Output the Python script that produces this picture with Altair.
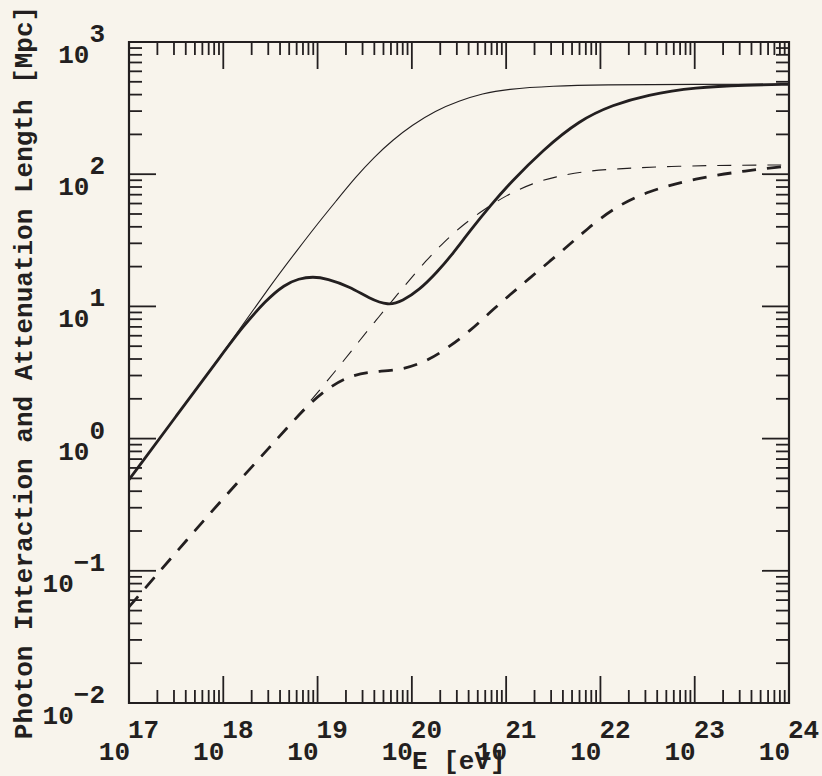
import altair as alt
import pandas as pd

INK = "#231f20"
BG = "#f8f4ec"
FONT = "Liberation Mono"
W, H = 660, 661

# ---- data (log10 of energy [eV] and log10 of length [Mpc]) ----
thin_solid_logE = [17.0, 17.5, 18.0, 18.5, 18.8, 19.0, 19.2, 19.4, 19.6, 19.8, 20.0,
                   20.25, 20.5, 20.75, 21.0, 21.5, 22.0, 23.0, 24.0]
thin_solid_logL = [-0.311, 0.17, 0.65, 1.16, 1.44, 1.625, 1.80, 1.975, 2.13, 2.26, 2.37,
                   2.48, 2.555, 2.61, 2.643, 2.668, 2.676, 2.68, 2.68]

thick_solid_logE = [17.0, 17.5, 18.0, 18.2, 18.45, 18.65, 18.8, 18.95, 19.1, 19.34, 19.55,
                    19.75, 19.9, 20.08, 20.26, 20.44, 20.61, 20.84, 21.04, 21.39, 21.78,
                    22.13, 22.49, 23.01, 23.55, 24.0]
thick_solid_logL = [-0.311, 0.17, 0.65, 0.84, 1.045, 1.165, 1.21, 1.226, 1.21, 1.15, 1.06,
                    1.005, 1.04, 1.125, 1.252, 1.403, 1.566, 1.768, 1.932, 2.184, 2.41,
                    2.524, 2.60, 2.658, 2.675, 2.68]

thin_dash_logE = [17.0, 17.5, 18.0, 18.5, 18.88, 19.2, 19.45, 19.62, 19.8, 19.94, 20.155,
                  20.33, 20.54, 20.77, 21.0, 21.28, 21.53, 21.81, 22.13, 22.84, 23.5, 24.0]
thin_dash_logL = [-1.273, -0.86, -0.45, -0.06, 0.244, 0.52, 0.745, 0.895, 1.05, 1.17, 1.35,
                  1.48, 1.617, 1.735, 1.84, 1.932, 1.982, 2.02, 2.04, 2.063, 2.068, 2.07]

thick_dash_logE = [17.0, 17.5, 18.0, 18.5, 18.88, 19.09, 19.3, 19.55, 19.9, 20.19, 20.4,
                   20.61, 20.82, 21.04, 21.25, 21.46, 21.67, 21.85, 22.13, 22.49, 23.01,
                   23.55, 24.0]
thick_dash_logL = [-1.273, -0.86, -0.45, -0.06, 0.244, 0.37, 0.465, 0.508, 0.516, 0.597, 0.697,
                   0.81, 0.95, 1.088, 1.214, 1.34, 1.466, 1.58, 1.74, 1.87, 1.97,
                   2.027, 2.063]

x_exponents = [17, 18, 19, 20, 21, 22, 23, 24]
y_exponents = [-2, -1, 0, 1, 2, 3]
minor_mult = [2, 3, 4, 5, 6, 7, 8, 9]

x_title = "E [eV]"
y_title = "Photon Interaction and Attenuation Length [Mpc]"

# ---- scales ----
xs = alt.Scale(type="log", domain=[1e17, 1e24], nice=False)
ys = alt.Scale(type="log", domain=[1e-2, 1e3], nice=False)


def curve(lx, ly, width, dash=None):
    df = pd.DataFrame({"E": [10.0 ** v for v in lx], "L": [10.0 ** v for v in ly]})
    kw = dict(color=INK, strokeWidth=width, interpolate="basis", clip=True)
    if dash:
        kw["strokeDash"] = dash
    return alt.Chart(df).mark_line(**kw).encode(
        x=alt.X("E:Q", scale=xs, axis=None),
        y=alt.Y("L:Q", scale=ys, axis=None),
    )


x_major = [10.0 ** e for e in x_exponents]
x_minor = [m * 10.0 ** e for e in x_exponents[:-1] for m in minor_mult]
y_major = [10.0 ** e for e in y_exponents]
y_minor = [m * 10.0 ** e for e in y_exponents[:-1] for m in minor_mult]

MAJ, MIN = 27, 13


def xticks(vals, y0, y1):
    return alt.Chart(pd.DataFrame({"v": vals})).mark_rule(color=INK, strokeWidth=1.8).encode(
        x=alt.X("v:Q", scale=xs, axis=None), y=alt.value(y0), y2=alt.value(y1))


def yticks(vals, x0, x1):
    return alt.Chart(pd.DataFrame({"v": vals})).mark_rule(color=INK, strokeWidth=1.8).encode(
        y=alt.Y("v:Q", scale=ys, axis=None), x=alt.value(x0), x2=alt.value(x1))


ticks = [
    xticks(x_major, H, H - MAJ), xticks(x_minor, H, H - MIN),
    xticks(x_major, 0, MAJ), xticks(x_minor, 0, MIN),
    yticks(y_major, 0, MAJ), yticks(y_minor, 0, MIN),
    yticks(y_major, W, W - MAJ), yticks(y_minor, W, W - MIN),
]

FS = 26
CH = FS * 0.6  # monospace advance
TXT = dict(font=FONT, fontSize=FS, fontWeight="bold", color=INK, baseline="alphabetic")

xlab = pd.DataFrame({"v": x_major, "exp": [str(e) for e in x_exponents]})
x_base = alt.Chart(xlab).mark_text(align="right", dx=1, **TXT).encode(
    x=alt.X("v:Q", scale=xs, axis=None), y=alt.value(H + 57), text=alt.value("10"))
x_exp = alt.Chart(xlab).mark_text(align="left", dx=-1, **TXT).encode(
    x=alt.X("v:Q", scale=xs, axis=None), y=alt.value(H + 35), text="exp:N")

ylab = pd.DataFrame({"v": y_major,
                     "exp": [str(e).replace("-", "\u2212") for e in y_exponents],
                     "n": [len(str(e)) for e in y_exponents]})
y_exp = alt.Chart(ylab).mark_text(align="right", **TXT).encode(
    y=alt.Y("v:Q", scale=ys, axis=None), x=alt.value(-24), text="exp:N")
y_base1 = alt.Chart(ylab).transform_filter("datum.n == 1").mark_text(
    align="right", dy=21, **TXT).encode(
    y=alt.Y("v:Q", scale=ys, axis=None), x=alt.value(-24 - CH), text=alt.value("10"))
y_base2 = alt.Chart(ylab).transform_filter("datum.n == 2").mark_text(
    align="right", dy=21, **TXT).encode(
    y=alt.Y("v:Q", scale=ys, axis=None), x=alt.value(-24 - 2 * CH), text=alt.value("10"))

xt = alt.Chart(pd.DataFrame({"t": [x_title]})).mark_text(align="left", **TXT).encode(
    x=alt.value(283), y=alt.value(H + 66), text="t:N")
yt = alt.Chart(pd.DataFrame({"t": [y_title]})).mark_text(align="center", angle=270, **TXT).encode(
    x=alt.value(-97), y=alt.value(H / 2), text="t:N")

curves = [
    curve(thin_solid_logE, thin_solid_logL, 1.1),
    curve(thick_solid_logE, thick_solid_logL, 2.8),
    curve(thin_dash_logE, thin_dash_logL, 1.1, [14, 11]),
    curve(thick_dash_logE, thick_dash_logL, 2.8, [14, 11]),
]

chart = alt.layer(*ticks, *curves, x_base, x_exp, y_exp, y_base1, y_base2, xt, yt).properties(
    width=W, height=H,
    autosize=alt.AutoSizeParams(type="none"),
    padding={"left": 129, "top": 42, "right": 33, "bottom": 73},
    background=BG,
).configure_view(stroke=INK, strokeWidth=2.2)

chart.save("out.html", embed_options={"renderer": "svg", "actions": False})
